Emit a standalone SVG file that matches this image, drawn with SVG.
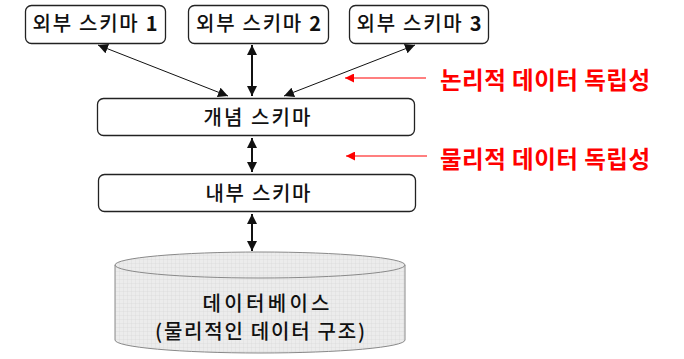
<svg xmlns="http://www.w3.org/2000/svg" width="684" height="359" viewBox="0 0 684 359">
  <defs>
    <style>
      .box { fill: #ffffff; stroke: #222222; stroke-width: 1.3; }
      .lbl { font-family: "Noto Sans CJK KR", "Noto Sans", sans-serif; font-size: 20px; font-weight: 500; fill: #111111; text-anchor: middle; }
      .red { font-family: "Noto Sans CJK KR", "Noto Sans", sans-serif; font-size: 23.5px; fill: #ff0000; font-weight: bold; }
      .thin { stroke: #111111; stroke-width: 1; fill: none; }
      .thick { stroke: #111111; stroke-width: 2; fill: none; }
      .redline { stroke: #ff0000; stroke-width: 1.2; fill: none; }
    </style>
    <marker id="ah" viewBox="0 0 10 10" refX="10" refY="5" markerWidth="10" markerHeight="10" markerUnits="userSpaceOnUse" orient="auto-start-reverse">
      <path d="M0,0 L10,5 L0,10 Z" fill="#111111"/>
    </marker>
    <marker id="ahr" viewBox="0 0 10 10" refX="10" refY="5" markerWidth="10" markerHeight="9" markerUnits="userSpaceOnUse" orient="auto">
      <path d="M0,0 L10,5 L0,10 Z" fill="#ff0000"/>
    </marker>
    <pattern id="grid" width="4" height="4" patternUnits="userSpaceOnUse">
      <rect width="4" height="4" fill="#ececec"/>
      <path d="M4,0 V4 M0,4 H4" stroke="#d2d2d2" stroke-width="0.6"/>
    </pattern>
  </defs>

  <g id="connectors">
    <line class="thin" x1="98" y1="45" x2="228" y2="96" marker-start="url(#ah)" marker-end="url(#ah)"/>
    <line class="thick" x1="252" y1="45" x2="252" y2="96" marker-start="url(#ah)" marker-end="url(#ah)"/>
    <line class="thin" x1="415" y1="45" x2="284" y2="96" marker-start="url(#ah)" marker-end="url(#ah)"/>
    <line class="thick" x1="252" y1="138" x2="252" y2="172" marker-start="url(#ah)" marker-end="url(#ah)"/>
    <line class="thick" x1="252" y1="214" x2="252" y2="251" marker-start="url(#ah)" marker-end="url(#ah)"/>
    <line class="redline" x1="426" y1="78" x2="345" y2="78" marker-end="url(#ahr)"/>
    <line class="redline" x1="427" y1="156" x2="346" y2="156" marker-end="url(#ahr)"/>
  </g>

  <g id="ext1">
    <rect class="box" x="25.5" y="5.5" width="140" height="38" rx="6"/>
    <text class="lbl" x="95" y="30.5" textLength="125">외부 스키마 <tspan font-weight="bold">1</tspan></text>
  </g>
  <g id="ext2">
    <rect class="box" x="188.5" y="5.5" width="140" height="38" rx="6"/>
    <text class="lbl" x="258.5" y="30.5" textLength="125">외부 스키마 <tspan font-weight="bold">2</tspan></text>
  </g>
  <g id="ext3">
    <rect class="box" x="349.5" y="5.5" width="139" height="38" rx="6"/>
    <text class="lbl" x="419" y="30.5" textLength="125">외부 스키마 <tspan font-weight="bold">3</tspan></text>
  </g>

  <g id="conceptual">
    <rect class="box" x="97.5" y="98.5" width="317" height="37" rx="6"/>
    <text class="lbl" x="257" y="124.5" textLength="107">개념 스키마</text>
  </g>

  <g id="internal">
    <rect class="box" x="98.5" y="174.5" width="317" height="37" rx="6"/>
    <text class="lbl" x="258" y="200.5" textLength="105">내부 스키마</text>
  </g>

  <g id="database">
    <path d="M115,265 A145,13 0 0 1 405,265 L405,340 A145,13 0 0 1 115,340 Z" fill="url(#grid)" stroke="#8a8a8a" stroke-width="1"/>
    <path d="M115,265 A145,13 0 0 0 405,265" fill="none" stroke="#8a8a8a" stroke-width="1"/>
    <text class="lbl" x="266" y="311" font-size="21" textLength="127">데이터베이스</text>
    <text class="lbl" x="260" y="339" font-size="21" textLength="210">(물리적인 데이터 구조)</text>
  </g>

  <g id="logical-label">
    <text class="red" x="440" y="89" textLength="210">논리적 데이터 독립성</text>
  </g>
  <g id="physical-label">
    <text class="red" x="440" y="168" textLength="210">물리적 데이터 독립성</text>
  </g>
</svg>
